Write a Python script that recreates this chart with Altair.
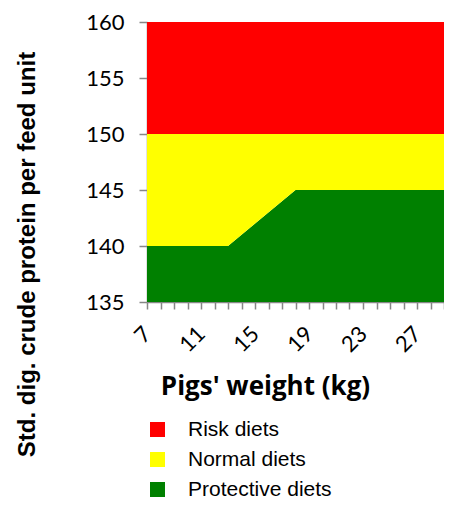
import altair as alt
import pandas as pd

weights = [7, 13, 18, 29]
protective_top = [140, 140, 145, 145]
normal_top = [150, 150, 150, 150]
risk_top = [160, 160, 160, 160]
bottom = [135, 135, 135, 135]

series_names = ["Risk diets", "Normal diets", "Protective  diets"]
series_colors = ["#FF0000", "#FFFF00", "#008000"]

x_ticks = list(range(7, 30))
y_ticks = [135, 140, 145, 150, 155, 160]

rows = []
for i, w in enumerate(weights):
    rows.append({"series": series_names[2], "x": w, "lo": bottom[i], "hi": protective_top[i]})
    rows.append({"series": series_names[1], "x": w, "lo": protective_top[i], "hi": normal_top[i]})
    rows.append({"series": series_names[0], "x": w, "lo": normal_top[i], "hi": risk_top[i]})
df = pd.DataFrame(rows)

axis_color = "#868686"

chart = alt.Chart(df).mark_area(opacity=1, interpolate="linear").encode(
    x=alt.X("x:Q", scale=alt.Scale(domain=[7, 29], nice=False, zero=False),
            axis=alt.Axis(values=x_ticks, title="Pigs' weight (kg)",
                          labelExpr="(datum.value - 7) % 4 == 0 ? datum.label : ''",
                          labelAngle=-45, labelAlign="right", labelBaseline="middle",
                          labelPadding=21, labelFont="Lato", labelFontSize=22,
                          labelColor="black", tickSize=7, tickColor=axis_color,
                          domainColor=axis_color, domainWidth=1.5, tickWidth=1.5,
                          grid=False, labelOverlap=False, labelFlush=False,
                          titleFont="Open Sans", titleFontSize=26, titleFontWeight="bold",
                          titleColor="black", titleX=118, titleY=92,
                          titleBaseline="alphabetic", titleAlign="center")),
    y=alt.Y("hi:Q", scale=alt.Scale(domain=[135, 160], nice=False, zero=False),
            axis=alt.Axis(values=y_ticks, title="Std. dig. crude protein per feed unit",
                          labelPadding=15, labelFont="Lato", labelFontSize=22,
                          labelColor="black", tickSize=8, tickColor=axis_color,
                          domainColor=axis_color, domainWidth=1.5, tickWidth=1.5,
                          grid=False,
                          titleFont="Liberation Sans", titleFontSize=24,
                          titleFontWeight="bold", titleColor="black",
                          titleAngle=-90, titleX=-113, titleY=232,
                          titleBaseline="alphabetic", titleAlign="center")),
    y2="lo:Q",
    color=alt.Color("series:N",
                    scale=alt.Scale(domain=series_names, range=series_colors),
                    legend=alt.Legend(title=None, orient="none", legendX=0, legendY=397,
                                      symbolType="square", symbolSize=225,
                                      symbolStrokeWidth=0, labelFont="Liberation Sans",
                                      labelFontSize=21, labelColor="black",
                                      labelOffset=20, rowPadding=8,
                                      direction="vertical")),
    order=alt.Order("series:N"),
).properties(
    width=297, height=280,
    autosize=alt.AutoSizeParams(type="none"),
    padding={"left": 139, "top": 14, "right": 0, "bottom": 196},
).configure_view(stroke=None)

chart.save("out.html", embed_options={"renderer": "svg", "actions": False})
